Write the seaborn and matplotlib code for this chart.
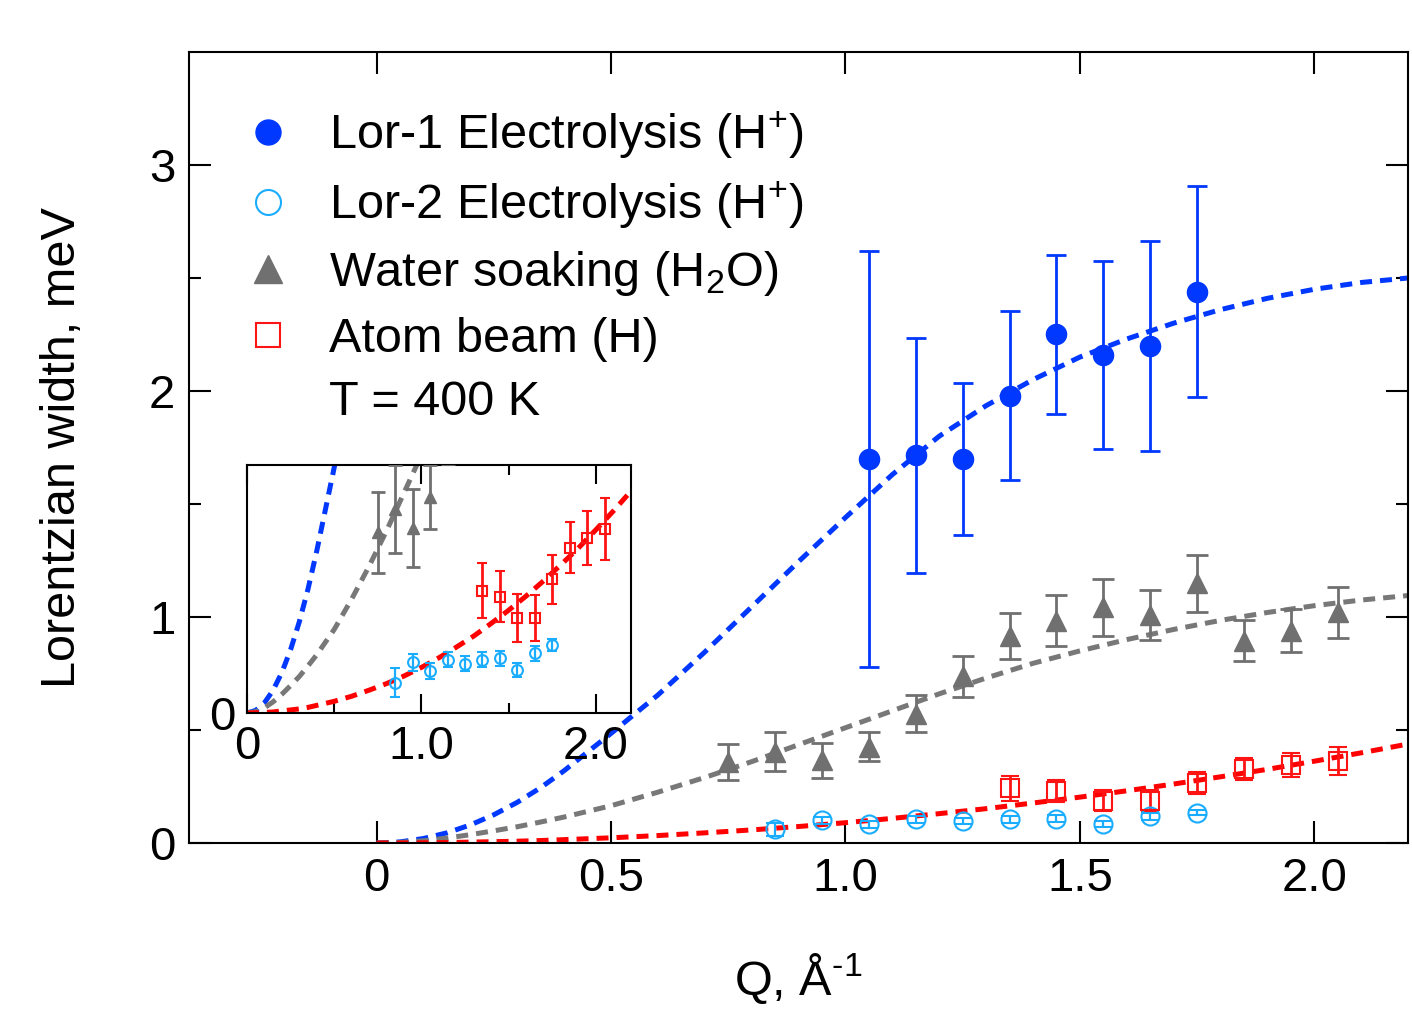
import matplotlib
matplotlib.use("Agg")
import matplotlib.pyplot as plt
import seaborn as sns
from matplotlib.lines import Line2D
from matplotlib.ticker import FixedLocator

# ---- measured Lorentzian widths (meV) vs Q (1/Angstrom) ----
q_lor1 = [1.05, 1.15, 1.25, 1.35, 1.45, 1.55, 1.65, 1.75]
w_lor1 = [1.70, 1.715, 1.70, 1.98, 2.25, 2.16, 2.20, 2.44]
e_lor1 = [0.92, 0.52, 0.335, 0.375, 0.35, 0.415, 0.465, 0.465]

q_lor2 = [0.85, 0.95, 1.05, 1.15, 1.25, 1.35, 1.45, 1.55, 1.65, 1.75]
w_lor2 = [0.06, 0.10, 0.083, 0.105, 0.097, 0.105, 0.108, 0.085, 0.118, 0.135]
e_lor2 = [0.028, 0.017, 0.016, 0.015, 0.015, 0.015, 0.015, 0.013, 0.015, 0.012]

q_water = [0.75, 0.85, 0.95, 1.05, 1.15, 1.25, 1.35, 1.45, 1.55, 1.65, 1.75, 1.85, 1.95, 2.05]
w_water = [0.357, 0.404, 0.366, 0.427, 0.573, 0.737, 0.916, 0.984, 1.043, 1.009, 1.149, 0.895, 0.94, 1.021]
e_water = [0.08, 0.087, 0.077, 0.064, 0.08, 0.091, 0.103, 0.112, 0.127, 0.111, 0.125, 0.09, 0.094, 0.113]

q_atom = [1.35, 1.45, 1.55, 1.65, 1.75, 1.85, 1.95, 2.05]
w_atom = [0.242, 0.23, 0.188, 0.188, 0.264, 0.327, 0.346, 0.364]
e_atom = [0.054, 0.05, 0.048, 0.045, 0.049, 0.05, 0.054, 0.061]

# ---- model fits ----
q_fit = [0.0, 0.05, 0.1, 0.15, 0.2, 0.25, 0.3, 0.35, 0.4, 0.5, 0.6, 0.7, 0.8, 0.9,
         1.0, 1.1, 1.2, 1.3, 1.4, 1.5, 1.6, 1.7, 1.8, 1.9, 2.0, 2.1, 2.2]
fit_lor1 = [0.0, 0.005, 0.02, 0.045, 0.08, 0.125, 0.18, 0.245, 0.32, 0.485, 0.655, 0.845,
            1.045, 1.245, 1.44, 1.63, 1.80, 1.935, 2.05, 2.15, 2.23, 2.30, 2.36, 2.41,
            2.45, 2.48, 2.50]
fit_water = [0.0, 0.0025, 0.01, 0.022, 0.037, 0.054, 0.072, 0.093, 0.115, 0.165, 0.225,
             0.29, 0.36, 0.435, 0.51, 0.585, 0.66, 0.73, 0.795, 0.85, 0.90, 0.945, 0.985,
             1.02, 1.05, 1.075, 1.095]
fit_atom = [0.0, 0.0003, 0.001, 0.002, 0.004, 0.006, 0.008, 0.011, 0.015, 0.023, 0.033,
            0.045, 0.058, 0.073, 0.09, 0.109, 0.13, 0.152, 0.177, 0.203, 0.231, 0.261,
            0.293, 0.326, 0.362, 0.399, 0.438]

x_ticks = [0, 0.5, 1.0, 1.5, 2.0]
x_ticklabels = ["0", "0.5", "1.0", "1.5", "2.0"]
y_ticks = [0, 1, 2, 3]
y_ticklabels = ["0", "1", "2", "3"]
inset_x_ticks = [0, 1.0, 2.0]
inset_x_ticklabels = ["0", "1.0", "2.0"]

legend_labels = ["Lor-1 Electrolysis (H$^{+}$)", "Lor-2 Electrolysis (H$^{+}$)",
                 "Water soaking (H$_{2}$O)", "Atom beam (H)", "T = 400 K"]

BLUE = "#0038FF"
LIGHT = "#1AADFF"
GRAY = "#707070"
GRAY_LINE = "#787878"
RED = "#FF1414"

sns.set_theme(style="ticks")
plt.rcParams["font.family"] = ["Liberation Sans", "DejaVu Sans"]
plt.rcParams["mathtext.fontset"] = "custom"
plt.rcParams["mathtext.rm"] = "Liberation Sans"
plt.rcParams["mathtext.it"] = "Liberation Sans:italic"
plt.rcParams["mathtext.bf"] = "Liberation Sans:bold"
plt.rcParams["mathtext.default"] = "regular"
plt.rcParams["axes.linewidth"] = 1.5
plt.rcParams["axes.edgecolor"] = "black"
plt.rcParams["text.color"] = "black"
plt.rcParams["axes.labelcolor"] = "black"
plt.rcParams["xtick.color"] = "black"
plt.rcParams["ytick.color"] = "black"

fig = plt.figure(figsize=(14.12, 10.09), dpi=100)
ax = fig.add_axes([0.1339, 0.1645, 0.8633, 0.784])
axin = fig.add_axes([0.1749, 0.2934, 0.2718, 0.2457])

DASH = (0, (2.4, 1.6))


def draw(a, inset=False):
    lw = 3.6
    for y, c in ((fit_lor1, BLUE), (fit_water, GRAY_LINE), (fit_atom, "#FF0000")):
        sns.lineplot(x=q_fit, y=y, ax=a, color=c, lw=lw, linestyle=DASH,
                     zorder=2, legend=False, estimator=None, sort=False)
    k = 0.6 if inset else 1.0
    a.errorbar(q_lor2, w_lor2, yerr=e_lor2, fmt="o", ms=13 * k, mfc="none", mec=LIGHT,
               mew=1.5, ecolor=LIGHT, elinewidth=1.6, capsize=6.5 * k, capthick=1.6,
               zorder=3)
    a.errorbar(q_water, w_water, yerr=e_water, fmt="^", ms=15 * k, color=GRAY,
               ecolor=GRAY, elinewidth=2, capsize=8 * k, capthick=2, zorder=3)
    a.errorbar(q_atom, w_atom, yerr=e_atom, fmt="s", ms=13 * k, mfc="none", mec=RED,
               mew=1.5, ecolor=RED, elinewidth=2, capsize=6.5 * k, capthick=2, zorder=3)
    a.errorbar(q_lor1, w_lor1, yerr=e_lor1, fmt="o", ms=14.5 * k, color=BLUE,
               ecolor=BLUE, elinewidth=2, capsize=7.2 * k, capthick=2, zorder=4)


draw(ax)
ax.set_xlim(-0.4, 2.2)
ax.set_ylim(0, 3.5)
ax.xaxis.set_major_locator(FixedLocator(x_ticks))
ax.set_xticklabels(x_ticklabels)
ax.yaxis.set_major_locator(FixedLocator(y_ticks))
ax.set_yticklabels(y_ticklabels)
ax.yaxis.set_minor_locator(FixedLocator([0.5, 1.5, 2.5]))
ax.tick_params(which="both", direction="in", top=True, right=True, width=1.5,
               colors="black", labelsize=34)
ax.tick_params(which="major", length=16, pad=10)
ax.tick_params(which="minor", length=8.5)
ax.set_xlabel("Q, Å$^{\\text{-1}}$", fontsize=35, labelpad=36)
ax.set_ylabel("Lorentzian width, meV", fontsize=35, labelpad=46)
for s in ax.spines.values():
    s.set_visible(True)
    s.set_linewidth(1.5)
    s.set_color("black")

handles = [
    Line2D([], [], ls="none", marker="o", ms=18, color=BLUE),
    Line2D([], [], ls="none", marker="o", ms=18, mfc="none", mec=LIGHT, mew=1.5),
    Line2D([], [], ls="none", marker="^", ms=20, color=GRAY),
    Line2D([], [], ls="none", marker="s", ms=17, mfc="none", mec=RED, mew=1.5),
    Line2D([], [], ls="none"),
]
ax.legend(handles, legend_labels, loc="upper left", bbox_to_anchor=(0.045, 0.928),
          frameon=False, fontsize=35, handlelength=1.0, handletextpad=0.75,
          labelspacing=0.38, borderpad=0, borderaxespad=0)

# inset: same data, zoomed in on the low-width region
axin.set_facecolor("white")
draw(axin, inset=True)
axin.set_xlim(0, 2.2)
axin.set_ylim(0, 0.49)
axin.xaxis.set_major_locator(FixedLocator(inset_x_ticks))
axin.set_xticklabels(inset_x_ticklabels)
axin.xaxis.set_minor_locator(FixedLocator([0.5, 1.5]))
axin.yaxis.set_major_locator(FixedLocator([0]))
axin.set_yticklabels(["0"])
axin.set_xlabel("")
axin.set_ylabel("")
axin.tick_params(axis="x", which="both", direction="in", top=True, width=1.5,
                 colors="black", labelsize=34, pad=9)
axin.tick_params(axis="x", which="major", length=14)
axin.tick_params(axis="x", which="minor", length=7.5)
axin.tick_params(axis="y", which="both", length=0, labelsize=34, pad=8, colors="black")
for s in axin.spines.values():
    s.set_visible(True)
    s.set_linewidth(1.5)
    s.set_color("black")

fig.savefig("out.png", dpi=100)
